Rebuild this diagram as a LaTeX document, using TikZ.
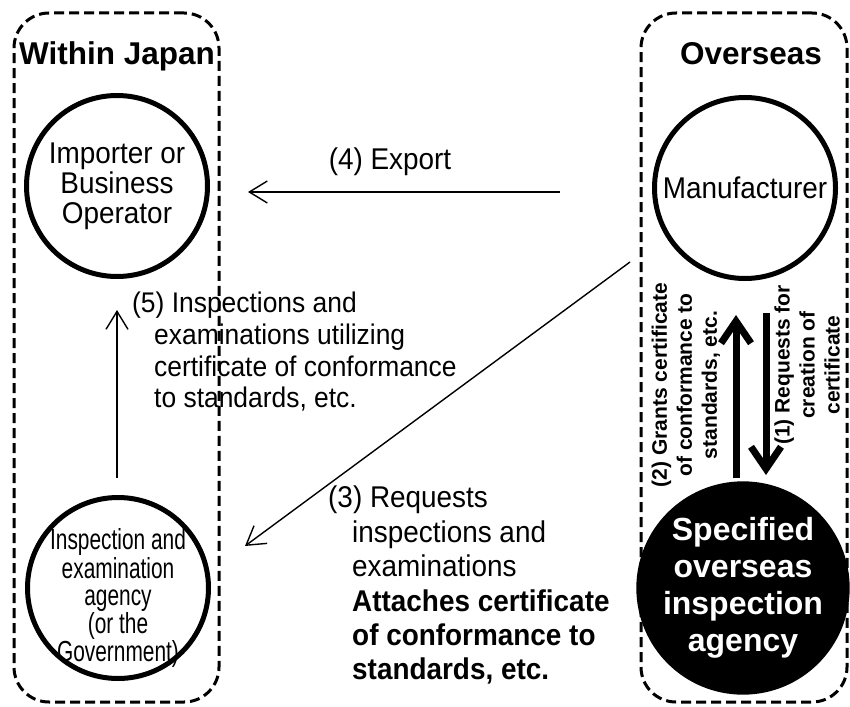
\documentclass[tikz,border=0pt]{standalone}
\usepackage{fontspec}
\setmainfont{Liberation Sans}
\newfontfamily\condfont[FakeStretch=0.93]{Liberation Sans}
\newfontfamily\narrowfont[FakeStretch=0.72]{Liberation Sans}
\usetikzlibrary{arrows.meta}
\begin{document}
\begin{tikzpicture}[x=1pt,y=-1pt,
  region/.style={draw, line width=3pt, dash pattern=on 10pt off 5pt, rounded corners=35pt, inner sep=0pt},
  ring/.style={circle, draw, line width=5pt, minimum size=181pt, inner sep=0pt, align=center},
  title/.style={font=\bfseries\fontsize{31.5pt}{36pt}\selectfont, anchor=base, inner sep=0pt},
  bigtext/.style={font=\condfont\fontsize{30pt}{30pt}\selectfont},
  thinarrow/.style={line width=1.4pt, -{Straight Barb[length=18pt,width=22pt]}},
  thickarrow/.style={line width=7pt, -{Straight Barb[length=22pt,width=30pt]}},
  sidelabel/.style={rotate=90, font=\bfseries\fontsize{21pt}{25pt}\selectfont, align=center, inner sep=0pt}
]
\useasboundingbox (0,0) rectangle (850,706);

% regions
\node[region, minimum width=205pt, minimum height=689pt] (japan) at (116.5,357.5) {};
\node[region, minimum width=206pt, minimum height=689pt] (overseas) at (744,357.5) {};
\node[title] (tjapan) at (117,65) {Within Japan};
\node[title] (tover) at (751,65) {Overseas};

% circles
\node[ring, bigtext] (imp) at (117,186) {Importer or\\Business\\Operator};
\node[ring, bigtext] (manu) at (745,188) {Manufacturer};
\node[ring] (agency) at (118,588) {};
\node[align=center, inner sep=0pt, font=\narrowfont\fontsize{29pt}{27pt}\selectfont] (agencytxt) at (118,598)
  {Inspection and\\examination\\agency\\(or the\\Government)};
\node[circle, fill=black, minimum size=210pt, inner sep=0pt, text=white, align=center,
      font=\bfseries\fontsize{32pt}{37pt}\selectfont] (spec) at (743,588) {Specified\\overseas\\inspection\\agency};

% coordinates for connectors
\coordinate (e1) at (560,192);
\coordinate (e2) at (248,192);
\coordinate (d1) at (630,262);
\coordinate (d2) at (245,546);
\coordinate (f1) at (117,478);
\coordinate (f2) at (117,310);
\coordinate (u1) at (736,478);
\coordinate (u2) at (736,315);
\coordinate (w1) at (766,313);
\coordinate (w2) at (766,475);

\draw[thinarrow] (e1) -- (e2);
\draw[thinarrow] (d1) -- (d2);
\draw[thinarrow] (f1) -- (f2);
\draw[thickarrow] (u1) -- (u2);
\draw[thickarrow] (w1) -- (w2);

% labels
\node[bigtext, inner sep=0pt] (lexport) at (390,162) {(4) Export};
\node[anchor=north west, align=left, inner sep=0pt, font=\condfont\fontsize{28.4pt}{31.7pt}\selectfont] (lfive) at (132,292)
  {(5) Inspections and\\\hspace*{22pt}examinations utilizing\\\hspace*{22pt}certificate of conformance\\\hspace*{22pt}to standards, etc.};
\node[anchor=north west, align=left, inner sep=0pt, font=\condfont\fontsize{30pt}{34.4pt}\selectfont] (lthree) at (328,486)
  {(3) Requests\\\hspace*{24pt}inspections and\\\hspace*{24pt}examinations\\\hspace*{24pt}\textbf{Attaches certificate}\\\hspace*{24pt}\textbf{of conformance to}\\\hspace*{24pt}\textbf{standards, etc.}};
\node[sidelabel] (lgrant) at (686,385) {(2) Grants certificate\\of conformance to\\standards, etc.};
\node[sidelabel] (lreq) at (807,365) {(1) Requests for\\creation of\\certificate};
\end{tikzpicture}
\end{document}
